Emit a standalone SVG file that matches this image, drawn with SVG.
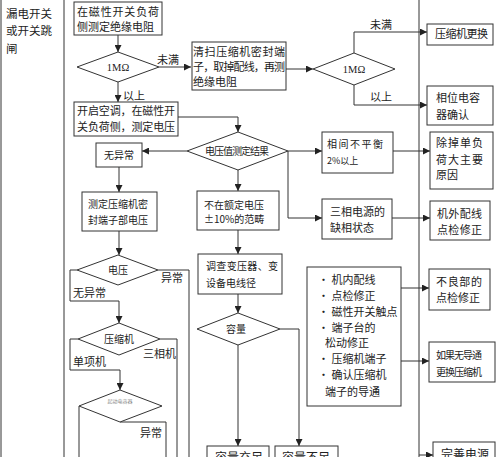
<svg xmlns="http://www.w3.org/2000/svg" width="500" height="457" viewBox="0 0 500 457">
<style>
.b{fill:#fff;stroke:#333;stroke-width:1}
.l{fill:none;stroke:#333;stroke-width:1}
.a{fill:none;stroke:#333;stroke-width:1;marker-end:url(#ah)}
text{font-family:"Noto Sans CJK SC","Noto Sans",sans-serif;font-size:11px;fill:#222}
.c{text-anchor:middle}
.s{font-size:10px}
.m{font-family:"Liberation Serif","DejaVu Serif",serif;font-size:10.5px}
</style>
<defs>
<marker id="ah" markerUnits="userSpaceOnUse" markerWidth="7" markerHeight="7" refX="7" refY="3.5" orient="auto">
<path d="M0,0 L7,3.5 L0,7 z" fill="#222"/>
</marker>
</defs>
<rect width="500" height="457" fill="#fff"/>
<g id="frame">
<line class="l" x1="1" y1="0" x2="1" y2="457"/>
<line class="l" x1="64" y1="0" x2="64" y2="457"/>
<line class="l" x1="419" y1="0" x2="419" y2="457"/>
</g>
<g id="side-label">
<text x="6" y="18" style="font-size:11.5px">漏电开关</text>
<text x="6" y="35" style="font-size:11.5px">或开关跳</text>
<text x="6" y="53" style="font-size:11.5px">闸</text>
</g>
<g id="connectors">
<line class="a" x1="118" y1="35" x2="118" y2="52"/>
<line class="a" x1="159" y1="67" x2="191" y2="67"/>
<line class="a" x1="118" y1="82" x2="118" y2="102"/>
<polyline class="a" points="178,117 238,117 238,132"/>
<line class="a" x1="187" y1="151" x2="142" y2="151"/>
<line class="a" x1="119" y1="167" x2="119" y2="192"/>
<line class="a" x1="119" y1="231" x2="119" y2="255"/>
<polyline class="a" points="77,270 70,270 70,301 119,301 119,323"/>
<polyline class="l" points="158,270 189,270 189,457"/>
<polyline class="a" points="78,339 70,339 70,370 120,370 120,390"/>
<polyline class="l" points="160,339 177,339 177,457"/>
<line class="l" x1="79" y1="406" x2="79" y2="457"/>
<polyline class="l" points="120,422 166,422 166,457"/>
<line class="a" x1="286" y1="69" x2="313" y2="69"/>
<polyline class="a" points="354,53 354,32 427,32"/>
<polyline class="a" points="354,85 354,105 427,105"/>
<line class="a" x1="288" y1="151" x2="322" y2="151"/>
<polyline class="a" points="288,151 288,218 322,218"/>
<line class="a" x1="393" y1="151" x2="430" y2="151"/>
<line class="a" x1="392" y1="218" x2="430" y2="218"/>
<line class="a" x1="238" y1="170" x2="238" y2="191"/>
<line class="a" x1="238" y1="230" x2="238" y2="254"/>
<line class="a" x1="238" y1="294" x2="238" y2="313"/>
<line class="a" x1="238" y1="345" x2="238" y2="446"/>
<polyline class="a" points="280,329 299,329 299,446"/>
<line class="a" x1="401" y1="288" x2="429" y2="288"/>
<line class="a" x1="401" y1="361" x2="429" y2="361"/>
<line class="a" x1="419" y1="455" x2="433" y2="455"/>
<text x="157" y="64">未满</text>
<text x="123" y="100">以上</text>
<text x="73" y="297">无异常</text>
<text x="161" y="282">异常</text>
<text x="73" y="366">单项机</text>
<text x="143" y="358">三相机</text>
<text x="140" y="437">异常</text>
<text x="370" y="29">未满</text>
<text x="370" y="101">以上</text>
</g>
<g id="n1"><rect class="b" x="74" y="2" width="88" height="33"/>
<text x="77" y="16" textLength="82">在磁性开关负荷</text>
<text x="77" y="31">侧测定绝缘电阻</text></g>
<g id="d1"><polygon class="b" points="77,67 118,52 159,67 118,82"/>
<text class="m c" x="118" y="71">1MΩ</text></g>
<g id="n2"><rect class="b" x="192" y="42" width="94" height="48"/>
<text x="193" y="56" textLength="92">清扫压缩机密封端</text>
<text x="193" y="71" textLength="92">子，取掉配线，再测</text>
<text x="193" y="86">绝缘电阻</text></g>
<g id="n3"><rect class="b" x="74" y="102" width="104" height="34"/>
<text x="77" y="115" textLength="98">开启空调，在磁性开</text>
<text x="77" y="131" textLength="98">关负荷侧，测定电压</text></g>
<g id="d2"><polygon class="b" points="187,151 238,132 288,151 238,170"/>
<text class="c s" x="237" y="155" textLength="64">电压值测定结果</text></g>
<g id="n4"><rect class="b" x="96" y="143" width="46" height="24"/>
<text class="c s" x="119" y="159">无异常</text></g>
<g id="n5"><rect class="b" x="82" y="192" width="75" height="39"/>
<text class="s" x="88" y="208" textLength="60">测定压缩机密</text>
<text class="s" x="88" y="224" textLength="60">封端子部电压</text></g>
<g id="d3"><polygon class="b" points="77,270 118,255 158,270 118,285"/>
<text class="c s" x="118" y="274">电压</text></g>
<g id="d4"><polygon class="b" points="78,339 119,323 160,339 119,355"/>
<text class="c s" x="119" y="343">压缩机</text></g>
<g id="d5"><polygon class="b" points="79,406 120,390 162,406 120,422"/>
<text class="c" x="120" y="403" style="font-size:5px;fill:#888">起动电容器</text></g>
<g id="d6"><polygon class="b" points="313,69 354,53 395,69 354,85"/>
<text class="m c" x="354" y="73">1MΩ</text></g>
<g id="n6"><rect class="b" x="427" y="24" width="66" height="21"/>
<text x="435" y="38" textLength="53">压缩机更换</text></g>
<g id="n7"><rect class="b" x="427" y="86" width="66" height="39"/>
<text x="436" y="102" textLength="44">相位电容</text>
<text x="436" y="119">器确认</text></g>
<g id="n8"><rect class="b" x="322" y="132" width="71" height="41"/>
<text class="s" x="327" y="148" textLength="56">相间不平衡</text>
<text x="327" y="164" style="font-size:9px">2%以上</text></g>
<g id="n9"><rect class="b" x="430" y="132" width="63" height="57"/>
<text x="436" y="147" textLength="47">除掉单负</text>
<text x="436" y="164" textLength="47">荷大主要</text>
<text x="436" y="179">原因</text></g>
<g id="n10"><rect class="b" x="322" y="199" width="70" height="40"/>
<text x="330" y="216">三相电源的</text>
<text x="330" y="232">缺相状态</text></g>
<g id="n11"><rect class="b" x="430" y="201" width="60" height="39"/>
<text x="437" y="218" textLength="45">机外配线</text>
<text x="437" y="234" textLength="45">点检修正</text></g>
<g id="n12"><rect class="b" x="197" y="191" width="82" height="39"/>
<text class="s" x="204" y="209">不在额定电压</text>
<text class="s" x="204" y="223">±10%的范畴</text></g>
<g id="n13"><rect class="b" x="198" y="254" width="84" height="40"/>
<text class="s" x="206" y="270" textLength="72">调查变压器、变</text>
<text class="s" x="206" y="287">设备电线径</text></g>
<g id="d7"><polygon class="b" points="197,329 238,313 280,329 238,345"/>
<text class="c s" x="236" y="333">容量</text></g>
<g id="n14"><rect class="b" x="207" y="446" width="62" height="20"/>
<text x="215" y="462" style="font-size:12px">容量充足</text></g>
<g id="n15"><rect class="b" x="275" y="446" width="63" height="20"/>
<text x="282" y="462" style="font-size:12px">容量不足</text></g>
<g id="n16"><rect class="b" x="307" y="267" width="94" height="139"/>
<text x="318" y="284">· 机内配线</text>
<text x="318" y="300">· 点检修正</text>
<text x="318" y="316">· 磁性开关触点</text>
<text x="318" y="332">· 端子台的</text>
<text x="325" y="347">松动修正</text>
<text x="318" y="363">· 压缩机端子</text>
<text x="318" y="379">· 确认压缩机</text>
<text x="325" y="396">端子的导通</text></g>
<g id="n17"><rect class="b" x="429" y="269" width="61" height="41"/>
<text x="436" y="286" textLength="46">不良部的</text>
<text x="436" y="302">点检修正</text></g>
<g id="n18"><rect class="b" x="429" y="342" width="66" height="40"/>
<text class="s" x="436" y="359" textLength="46">如果无导通</text>
<text class="s" x="436" y="376" textLength="46">更换压缩机</text></g>
<g id="n19"><rect class="b" x="433" y="442" width="62" height="20"/>
<text x="441" y="459" style="font-size:12px">完善电源</text></g>
</svg>
